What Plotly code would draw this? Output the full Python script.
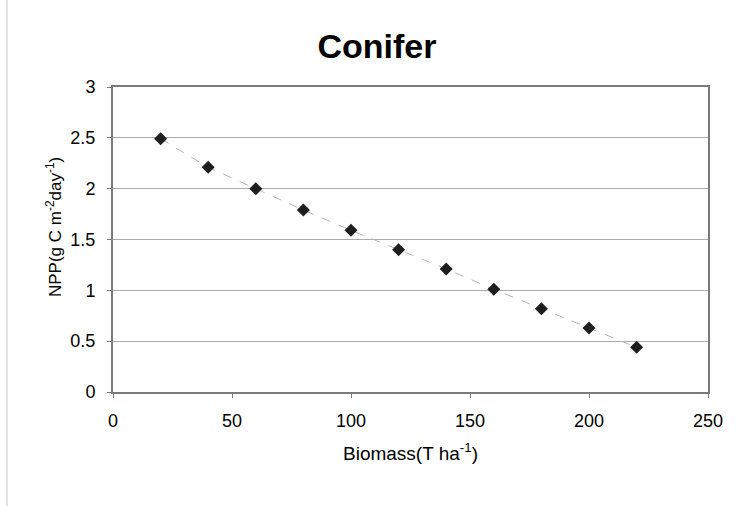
import plotly.graph_objects as go

biomass = [20, 40, 60, 80, 100, 120, 140, 160, 180, 200, 220]
npp = [2.49, 2.21, 2.0, 1.79, 1.59, 1.40, 1.21, 1.01, 0.82, 0.63, 0.44]
x_ticks = [0, 50, 100, 150, 200, 250]
y_ticks = [0, 0.5, 1, 1.5, 2, 2.5, 3]
y_labels = ["0", "0.5", "1", "1.5", "2", "2.5", "3"]
x_title = "Biomass(T ha<sup>-1</sup>)"
y_title = "NPP(g C m<sup>-2</sup>day<sup>-1</sup>)"
chart_title = "Conifer"

font = "Liberation Sans, Arial, sans-serif"

fig = go.Figure()
fig.add_trace(go.Scatter(
    x=biomass, y=npp, mode="lines+markers",
    line=dict(color="#b5b5b5", width=1, dash="dash"),
    marker=dict(symbol="diamond", size=10, color="#1e1e1e"),
    showlegend=False,
))

fig.update_layout(
    width=737, height=506,
    margin=dict(l=113, r=29, t=87, b=114),
    paper_bgcolor="white", plot_bgcolor="white",
    title=dict(text="<b>" + chart_title + "</b>", x=377 / 737, xanchor="center", y=1 - 46 / 506, yanchor="middle",
               font=dict(family=font, size=34, color="black")),
    font=dict(family=font, color="black"),
    xaxis=dict(
        range=[0, 250], tickvals=x_ticks, ticktext=[str(v) for v in x_ticks],
        showgrid=False, zeroline=False,
        showline=True, linecolor="#7a7a7a", linewidth=2, mirror=True,
        ticks="outside", ticklen=4, tickcolor="#7a7a7a",
        tickfont=dict(size=18), ticklabelstandoff=7,
        title=dict(text=x_title, font=dict(size=19), standoff=17),
    ),
    yaxis=dict(
        range=[0, 3], tickvals=y_ticks, ticktext=y_labels,
        showgrid=True, gridcolor="#acacac", gridwidth=1, zeroline=False,
        showline=True, linecolor="#7a7a7a", linewidth=2, mirror=True,
        ticks="outside", ticklen=4, tickcolor="#7a7a7a",
        tickfont=dict(size=18), ticklabelstandoff=8,
    ),
)

fig.add_annotation(text=y_title, textangle=-90, showarrow=False,
                   xref="paper", yref="paper", x=(54 - 113) / 595, y=(392 - 227) / 305,
                   xanchor="center", yanchor="middle",
                   font=dict(family=font, size=17, color="black"))

fig.add_shape(type="line", xref="paper", yref="paper",
              x0=-106 / 595, x1=-106 / 595, y0=-0.4, y1=1.3,
              line=dict(color="#c8c8c8", width=1))

fig.write_html("out.html")
